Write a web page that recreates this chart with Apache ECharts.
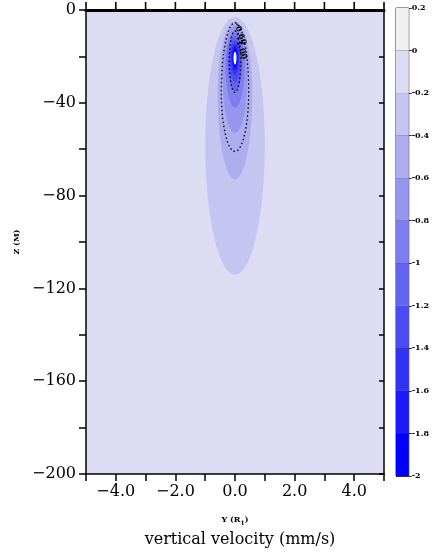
<!DOCTYPE html>
<html><head><meta charset="utf-8">
<script src="https://cdn.jsdelivr.net/npm/echarts@6/dist/echarts.min.js"></script>
<style>html,body{margin:0;padding:0;background:#fff}#c{width:432px;height:554px}</style>
</head><body><div id="c"></div>
<script>
// ---- data ----
// filled contour levels (region where value < level), egg-shaped plume centred at Y=0
const levelValues    = [-0.2, -0.4, -0.6, -0.8, -1.0, -1.2, -1.4, -1.6, -1.8, -2.0];
const levelTop       = [-3, -5, -7, -9, -11, -13, -14.5, -15.5, -16.5, -18];
const levelBottom    = [-114, -73, -53, -42, -35, -31, -28, -26, -24.5, -23.5];
const levelWidestZ   = [-58, -36, -28, -24, -21, -20, -20, -20, -20, -20.5];
const levelHalfWidth = [1.0, 0.58, 0.42, 0.32, 0.25, 0.19, 0.14, 0.10, 0.07, 0.05];
// dotted contour lines
const dotLabels    = ['-0.60', '-1.00'];
const dotTop       = [-5.5, -9];
const dotBottom    = [-61, -35.5];
const dotWidestZ   = [-35, -22];
const dotHalfWidth = [0.46, 0.19];
const dotLabelY    = [0.17, 0.2];
const dotLabelZ    = [-10.3, -16.5];
// colour bar
const colorbarBounds = [0.2, 0, -0.2, -0.4, -0.6, -0.8, -1.0, -1.2, -1.4, -1.6, -1.8, -2.0];
// axes
const xRange = [-5, 5];
const zRange = [-200, 0];
const topTickValues = [-5, -4, -3, -2, -1, 0, 1, 2, 3, 4, 5];

// ---- styles ----
const bandColors = ['#f0f0f0', '#dcdcf3', '#c5c5f1', '#acacee', '#9696ef', '#7d7def',
                    '#6464f0', '#4b4bf2', '#3232f5', '#1919fa', '#0000ff'];
const belowColor = '#ffffff';
const serif = 'DejaVu Serif';

function fmtNum(v, d) {
  const s = Math.abs(v).toFixed(d);
  return (v < -1e-9 ? '\u2212' : '') + s;
}

function eggPoints(api, w, top, bottom, zm, n) {
  const pts = [];
  for (let k = 0; k <= n; k++) {
    const th = 2 * Math.PI * k / n;
    const c = Math.cos(th), s = Math.sin(th);
    const z = zm + (c >= 0 ? (top - zm) : (zm - bottom)) * c;
    pts.push(api.coord([w * s, z]));
  }
  return pts;
}

const levelData = levelValues.map((v, i) => [levelHalfWidth[i], levelTop[i], levelBottom[i], levelWidestZ[i], i]);
const dotData = dotLabels.map((l, i) => [dotHalfWidth[i], dotTop[i], dotBottom[i], dotWidestZ[i], i]);
const barData = [];
for (let i = 0; i < colorbarBounds.length - 1; i++) barData.push([0, colorbarBounds[i], colorbarBounds[i + 1], i]);
const topTickData = topTickValues.map(v => [v, zRange[1]]);

const chart = echarts.init(document.getElementById('c'));
const axisCol = '#000';
chart.setOption({
  animation: false,
  backgroundColor: '#fff',
  title: {
    text: 'vertical velocity (mm/s)',
    left: 235, top: 527, textAlign: 'center',
    textStyle: {fontFamily: serif, fontSize: 16, fontWeight: 'normal', color: '#000'}
  },
  grid: [
    {left: 86, top: 10, width: 298, height: 464, show: true, backgroundColor: bandColors[1], borderWidth: 0},
    {left: 396, top: 8, width: 16, height: 468, show: true, borderColor: '#333', borderWidth: 1}
  ],
  xAxis: [
    {gridIndex: 0, type: 'value', min: xRange[0], max: xRange[1], interval: 1, position: 'bottom',
     axisLine: {onZero: false, lineStyle: {color: axisCol, width: 1.5}},
     axisTick: {inside: false, length: 7, lineStyle: {color: axisCol, width: 1.5}},
     axisLabel: {fontFamily: serif, fontSize: 16, color: '#000', margin: 10,
       formatter: v => (Math.abs(v) % 2 === 0 && Math.abs(v) < 5) ? fmtNum(v, 1) : ''},
     splitLine: {show: false},
     name: 'Y (R{s|1})', nameLocation: 'middle', nameGap: 40,
     nameTextStyle: {fontFamily: serif, fontSize: 8, fontWeight: 'bold', color: '#000',
       rich: {s: {fontSize: 6, fontWeight: 'bold', fontFamily: serif, verticalAlign: 'bottom', padding: [6, 0, 0, 0]}}}},
    {gridIndex: 0, type: 'value', min: xRange[0], max: xRange[1], interval: 1, position: 'top',
     axisLine: {show: true, onZero: false, lineStyle: {color: axisCol, width: 3}},
     axisTick: {show: false},
     axisLabel: {show: false}, splitLine: {show: false}},
    {gridIndex: 1, type: 'value', min: 0, max: 1, show: false}
  ],
  yAxis: [
    {gridIndex: 0, type: 'value', min: zRange[0], max: zRange[1], interval: 20, position: 'left',
     axisLine: {onZero: false, lineStyle: {color: axisCol, width: 1.5}},
     axisTick: {length: 7, lineStyle: {color: axisCol, width: 1.5}},
     axisLabel: {fontFamily: serif, fontSize: 16, color: '#000', margin: 10,
       formatter: v => (Math.round(v) % 40 === 0) ? fmtNum(v, 0) : ''},
     splitLine: {show: false},
     name: 'Z (M)', nameLocation: 'middle', nameGap: 64, nameRotate: 90,
     nameTextStyle: {fontFamily: serif, fontSize: 8, fontWeight: 'bold', color: '#000'}},
    {gridIndex: 0, type: 'value', min: zRange[0], max: zRange[1], interval: 20, position: 'right',
     axisLine: {onZero: false, lineStyle: {color: axisCol, width: 1.5}},
     axisTick: {inside: true, length: 5, lineStyle: {color: axisCol, width: 1.5}},
     axisLabel: {show: false}, splitLine: {show: false}},
    {gridIndex: 1, type: 'value', min: -2, max: 0.2, interval: 0.2, position: 'right',
     axisLine: {show: false, onZero: false},
     axisTick: {length: 3, lineStyle: {color: '#333'}},
     axisLabel: {fontFamily: serif, fontSize: 8, fontWeight: 'bold', color: '#000', margin: 3,
       formatter: v => { const r = Math.round(v * 10) / 10; return r === 0 ? '0' : String(r); }},
     splitLine: {show: true, lineStyle: {color: '#333', width: 1}}}
  ],
  series: [
    {type: 'custom', xAxisIndex: 0, yAxisIndex: 0, clip: true, data: levelData,
     encode: {x: 0, y: 1},
     renderItem: (params, api) => {
       const i = api.value(4);
       const pts = eggPoints(api, api.value(0), api.value(1), api.value(2), api.value(3), 90);
       return {type: 'polygon', shape: {points: pts},
               style: {fill: i + 2 < bandColors.length ? bandColors[i + 2] : belowColor}};
     }},
    {type: 'custom', xAxisIndex: 0, yAxisIndex: 0, clip: true, data: dotData,
     encode: {x: 0, y: 1}, z: 5,
     renderItem: (params, api) => {
       const i = api.value(4);
       const pts = eggPoints(api, api.value(0), api.value(1), api.value(2), api.value(3), 120);
       const lp = api.coord([dotLabelY[i], dotLabelZ[i]]);
       return {type: 'group', children: [
         {type: 'polyline', shape: {points: pts},
          style: {stroke: '#000', lineWidth: 1.3, fill: null, lineDash: [1.5, 2.5]}},
         {type: 'text', x: lp[0], y: lp[1], rotation: -1.25,
          style: {text: dotLabels[i], fill: '#000', font: 'bold 8px ' + serif, align: 'center', verticalAlign: 'middle'}}
       ]};
     }},
    {type: 'custom', xAxisIndex: 0, yAxisIndex: 0, clip: false, data: topTickData,
     encode: {x: 0, y: 1}, z: 100, zlevel: 1,
     renderItem: (params, api) => {
       const p = api.coord([api.value(0), api.value(1)]);
       return {type: 'line', ignoreClip: true, shape: {x1: p[0], y1: p[1], x2: p[0], y2: p[1] - 8},
               style: {stroke: axisCol, lineWidth: 1.6}};
     }},
    {type: 'custom', xAxisIndex: 2, yAxisIndex: 2, data: barData, encode: {x: 0, y: 1}, z: 1,
     renderItem: (params, api) => {
       const p1 = api.coord([0, api.value(1)]);
       const p2 = api.coord([1, api.value(2)]);
       return {type: 'rect', shape: {x: p1[0], y: p1[1], width: p2[0] - p1[0], height: p2[1] - p1[1]},
               style: {fill: bandColors[api.value(3)]}};
     }}
  ]
});
</script>
</body></html>
